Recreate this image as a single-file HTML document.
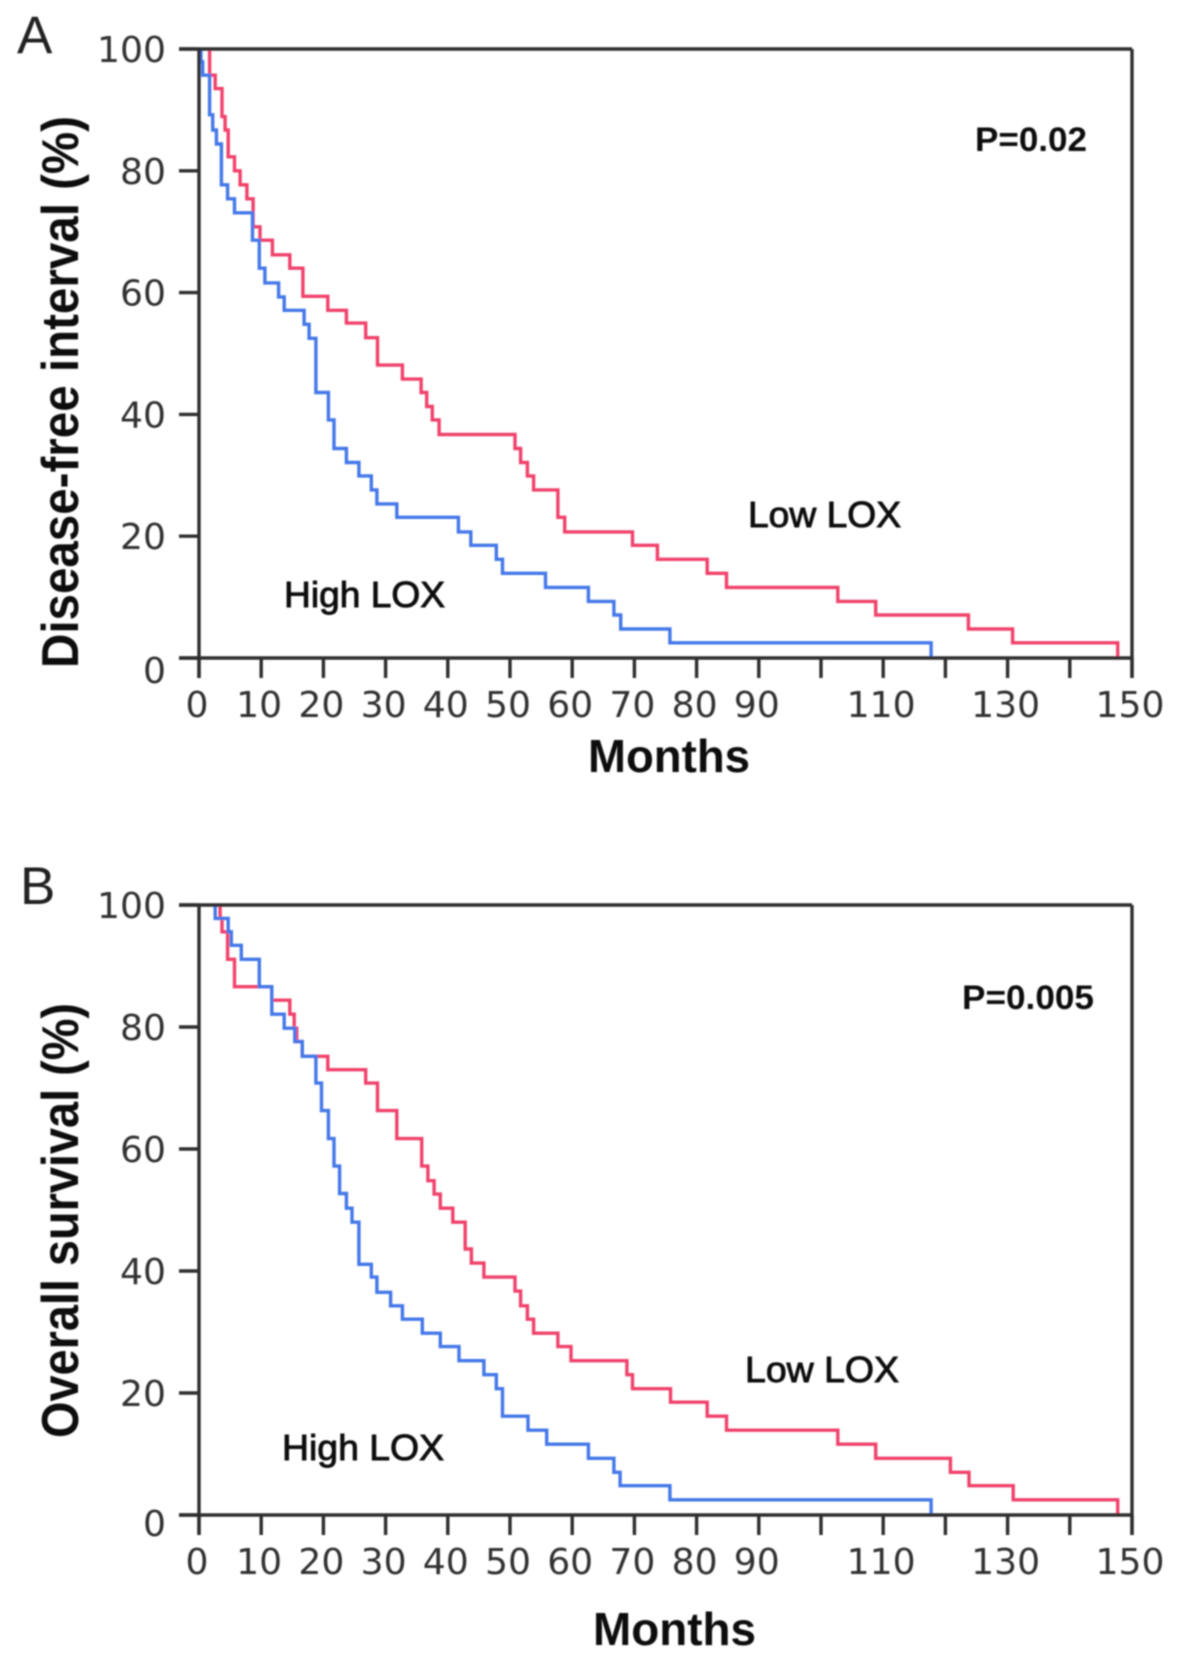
<!DOCTYPE html>
<html lang="en">
<head>
<meta charset="utf-8">
<title>Kaplan-Meier curves by LOX expression</title>
<style>
html,body{margin:0;padding:0;background:#fff;}
svg{display:block;}
.tick-label{font-family:"DejaVu Sans","Liberation Sans",sans-serif;font-size:36px;fill:#333;}
.axis-title{font-family:"Liberation Sans",sans-serif;font-weight:bold;fill:#111;}
.series-label{font-family:"Liberation Sans",sans-serif;font-size:36px;fill:#111;stroke:#111;stroke-width:.9px;}
.p-label{font-family:"Liberation Sans",sans-serif;font-weight:bold;font-size:34px;fill:#111;}
.panel-label{font-family:"Liberation Sans",sans-serif;font-size:53px;fill:#222;}
</style>
</head>
<body>
<svg id="chart" xmlns="http://www.w3.org/2000/svg" width="1181" height="1664" viewBox="0 0 1181 1664">
  <defs>
    <filter id="soft" x="-5%" y="-5%" width="110%" height="110%"><feGaussianBlur stdDeviation="0.7"/></filter>
  </defs>
  <rect x="0" y="0" width="1181" height="1664" fill="#fff"/>
  <g id="root" filter="url(#soft)">
    <text class="panel-label" x="17" y="53">A</text>
    <text class="panel-label" x="20" y="904">B</text>

    <text class="axis-title" font-size="52" textLength="552" lengthAdjust="spacingAndGlyphs" transform="translate(78,668) rotate(-90)">Disease-free interval (%)</text>
    <text class="axis-title" font-size="52" textLength="435" lengthAdjust="spacingAndGlyphs" transform="translate(78,1438) rotate(-90)">Overall survival (%)</text>

    <text class="axis-title" font-size="46" x="588" y="772" textLength="162" lengthAdjust="spacingAndGlyphs">Months</text>
    <text class="axis-title" font-size="46" x="593" y="1645" textLength="163" lengthAdjust="spacingAndGlyphs">Months</text>

    <text class="series-label" x="284" y="607" textLength="161" lengthAdjust="spacingAndGlyphs">High LOX</text>
    <text class="series-label" x="748" y="527" textLength="153" lengthAdjust="spacingAndGlyphs">Low LOX</text>
    <text class="series-label" x="282" y="1460" textLength="162" lengthAdjust="spacingAndGlyphs">High LOX</text>
    <text class="series-label" x="745" y="1382" textLength="154" lengthAdjust="spacingAndGlyphs">Low LOX</text>

    <text class="p-label" x="975" y="151" textLength="112" lengthAdjust="spacingAndGlyphs">P=0.02</text>
    <text class="p-label" x="962" y="1009" textLength="132" lengthAdjust="spacingAndGlyphs">P=0.005</text>
  </g>
</svg>
<script>
const xTickValues = [0,10,20,30,40,50,60,70,80,90,100,110,120,130,140,150];
const xTickLabels = ["0","10","20","30","40","50","60","70","80","90","","110","","130","","150"];
const yTickValues = [0,20,40,60,80,100];
const yTickLabels = ["0","20","40","60","80","100"];

const panelAHighMonths = [0.3,0.6,1.7,2.2,2.8,3.6,4.6,5.7,8.6,9.7,10.6,12.8,13.7,16.9,17.7,18.8,20.8,21.7,23.7,25.7,27.7,28.6,31.8,41.7,43.7,47.8,48.8,55.7,62.6,66.7,67.8,75.7,117.7];
const panelAHighValues = [97.9,95.7,89.2,86.7,84.4,77.7,75.4,73.1,68.6,64,61.6,59.3,57.1,54.8,52.5,43.6,39.1,34.4,32.1,29.9,27.6,25.3,23.1,20.7,18.5,16.2,13.9,11.6,9.3,7.06,4.76,2.5,0];
const panelALowMonths = [1.7,2.6,3.7,4.2,4.7,5.7,6.6,7.7,8.7,9.8,11.8,14.6,16.7,20.7,23.7,26.8,28.7,32.7,35.7,36.6,37.5,38.6,50.8,51.7,52.8,53.8,57.7,58.8,69.7,73.7,81.7,84.8,102.7,108.8,123.7,130.8,147.7];
const panelALowValues = [95.7,93.5,88.9,86.7,82.3,80,77.7,75.4,70.8,68.6,66.2,64,59.4,57.1,55,52.6,48.1,45.8,43.6,41.3,39.1,36.7,34.4,32.1,29.9,27.6,23.1,20.7,18.5,16.2,13.9,11.6,9.3,7.06,4.76,2.5,0];

const panelBHighMonths = [2.6,4.7,5.2,6.8,9.7,11.7,13.7,15.4,16.6,18.8,19.7,20.8,21.7,22.6,23.7,24.6,25.7,27.7,28.6,30.8,32.7,35.9,38.8,41.8,45.8,47.8,48.8,52.9,55.9,62.6,66.7,67.7,75.7,117.7];
const panelBHighValues = [97.8,95.6,93.4,91.1,86.6,82.1,79.8,77.6,75.2,70.8,66.3,61.7,57.2,52.7,50.3,48,41.1,39,36.5,34.3,32.1,29.8,27.6,25.3,23,20.7,16.2,13.9,11.6,9.3,7,4.8,2.5,0];
const panelBLowMonths = [3.4,3.7,4.6,5.7,11.7,14.6,15.3,15.7,16.6,20.7,26.8,28.7,31.8,35.8,36.8,37.8,38.8,40.8,42.8,43.8,45.8,50.8,51.7,52.8,53.8,57.7,59.8,68.8,69.7,75.8,81.7,84.8,102.7,108.8,120.8,123.8,130.9,147.7];
const panelBLowValues = [97.8,95.6,91.1,86.6,84.4,82.1,79.8,77.6,75.2,73,70.8,66.3,61.7,57.2,54.8,52.6,50.3,48,43.6,41.3,39,36.7,34.3,32.1,29.8,27.6,25.3,23,20.7,18.5,16.2,13.9,11.6,9.3,7,4.8,2.5,0];

const NS = "http://www.w3.org/2000/svg";
const root = document.getElementById("root");
const AXIS_COLOR = "#2e2e2e";
const HIGH_COLOR = "#4478e8";
const LOW_COLOR = "#f0426c";

function makeX(left, right) {
  return function (month) { return left + (right - left) * month / 150; };
}
function makeY(top, bottom) {
  return function (pct) { return bottom - (bottom - top) * pct / 100; };
}
function addLine(prefix, part, x1, y1, x2, y2, width) {
  const el = document.createElementNS(NS, "line");
  el.setAttribute("x1", x1);
  el.setAttribute("y1", y1);
  el.setAttribute("x2", x2);
  el.setAttribute("y2", y2);
  el.setAttribute("stroke", AXIS_COLOR);
  el.setAttribute("stroke-width", width);
  
  
  root.appendChild(el);
}
function addTickText(prefix, part, label, x, y, anchor) {
  const el = document.createElementNS(NS, "text");
  el.setAttribute("class", "tick-label");
  el.setAttribute("x", x);
  el.setAttribute("y", y);
  el.setAttribute("text-anchor", anchor);
  el.setAttribute("textLength", (label.length * 23).toFixed(1));
  el.setAttribute("lengthAdjust", "spacingAndGlyphs");
  el.textContent = label;
  
  
  root.appendChild(el);
}
function stepPath(months, values, x, y) {
  let d = "M" + x(months[0]).toFixed(1) + " " + y(100).toFixed(1);
  for (let i = 0; i < months.length; i++) {
    d += "H" + x(months[i]).toFixed(1) + "V" + y(values[i]).toFixed(1);
  }
  return d;
}
function addCurve(name, months, values, x, y, color) {
  const el = document.createElementNS(NS, "path");
  el.setAttribute("d", stepPath(months, values, x, y));
  el.setAttribute("fill", "none");
  el.setAttribute("stroke", color);
  el.setAttribute("stroke-width", "3.4");
  el.setAttribute("stroke-linejoin", "miter");
  
  
  root.appendChild(el);
}
function drawPanel(prefix, top, bottom, xLabelBaseline, zeroLabelShift, lowM, lowV, highM, highV) {
  const left = 199, right = 1132, tickLen = 20;
  const x = makeX(left, right);
  const y = makeY(top, bottom);

  addCurve(prefix + "-low-lox-curve", lowM, lowV, x, y, LOW_COLOR);
  addCurve(prefix + "-high-lox-curve", highM, highV, x, y, HIGH_COLOR);

  addLine(prefix, "plot-top-border", left - tickLen, y(100), right, y(100), 3.4);
  addLine(prefix, "x-axis-line", left - tickLen, y(0), right, y(0), 3.4);
  addLine(prefix, "y-axis-line", left, y(100), left, y(0) + tickLen, 3.4);
  addLine(prefix, "plot-right-border", right, y(100), right, y(0) + tickLen, 3.4);

  xTickValues.forEach(function (v, i) {
    addLine(prefix, "x-tick-" + v, x(v), y(0), x(v), y(0) + tickLen, 3.4);
    if (xTickLabels[i]) {
      addTickText(prefix, "x-tick-label-" + v, xTickLabels[i], x(v) - 2, xLabelBaseline, "middle");
    }
  });
  yTickValues.forEach(function (v, i) {
    addLine(prefix, "y-tick-" + v, left - tickLen, y(v), left, y(v), 3.4);
    const shift = v === 0 ? zeroLabelShift : 13;
    addTickText(prefix, "y-tick-label-" + v, yTickLabels[i], 166, y(v) + shift, "end");
  });
}
drawPanel("panel-a", 49, 658, 717, 25, panelALowMonths, panelALowValues, panelAHighMonths, panelAHighValues);
drawPanel("panel-b", 905, 1515, 1574, 21, panelBLowMonths, panelBLowValues, panelBHighMonths, panelBHighValues);
</script>
</body>
</html>
